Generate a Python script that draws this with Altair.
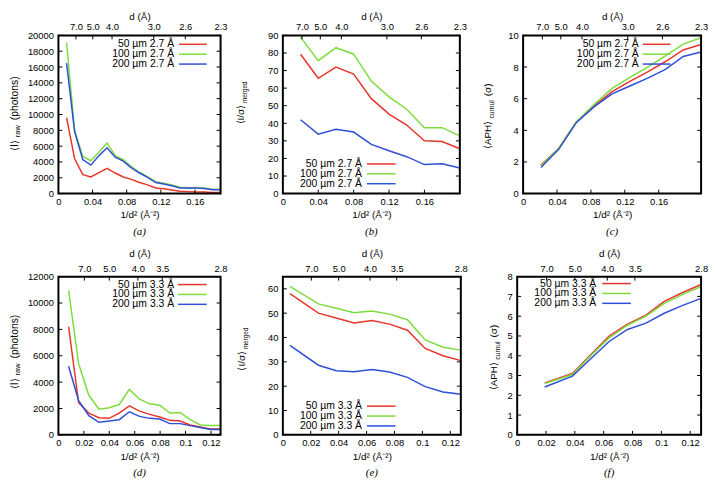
import altair as alt
import pandas as pd

COLORS = ["#e8352b", "#7ddc3c", "#2f4fd8"]
FONT = "Liberation Sans"

# ---------------- data ----------------
top_labels = ["50 µm 2.7 Å", "100 µm 2.7 Å", "200 µm 2.7 Å"]
bot_labels = ["50 µm 3.3 Å", "100 µm 3.3 Å", "200 µm 3.3 Å"]

top_d = [7.0, 5.0, 4.0, 3.0, 2.6, 2.3]
bot_d = [7.0, 5.0, 4.0, 3.5, 2.8]
xt_top = [0, 0.04, 0.08, 0.12, 0.16]
xt_bot = [0, 0.02, 0.04, 0.06, 0.08, 0.1, 0.12]

# (a) <I>raw
a_x = [0.0095, 0.0189, 0.0284, 0.0378, 0.0473, 0.0567, 0.0662, 0.0756, 0.0851, 0.0945,
       0.1040, 0.1134, 0.1229, 0.1323, 0.1418, 0.1512, 0.1607, 0.1701, 0.1796, 0.1890]
a_50 = [9600, 4400, 2400, 2100, 2650, 3200, 2600, 2100, 1800, 1400,
        1100, 700, 600, 450, 300, 250, 200, 200, 150, 150]
a_100 = [19100, 8000, 4700, 4150, 5250, 6400, 4800, 4300, 3400, 2700,
         2100, 1500, 1300, 1100, 800, 750, 700, 700, 550, 550]
a_200 = [16500, 7800, 4300, 3600, 4800, 5800, 4600, 4100, 3250, 2600,
         2050, 1400, 1200, 1000, 700, 700, 700, 650, 500, 500]

# (b) <I/sigma>merged and (c) <APH>cumul
bc_x = [0.0189, 0.0378, 0.0567, 0.0756, 0.0945, 0.1134, 0.1323, 0.1512, 0.1701, 0.1890]
b_50 = [79.3, 65.6, 72.0, 68.0, 54.0, 45.2, 39.0, 30.0, 29.6, 25.5]
b_100 = [89.0, 75.6, 83.0, 79.3, 64.0, 55.0, 48.0, 37.5, 37.5, 32.8]
b_200 = [42.0, 33.8, 36.6, 35.0, 28.0, 24.4, 21.0, 16.5, 17.0, 14.6]
c_50 = [1.80, 2.85, 4.55, 5.55, 6.45, 7.10, 7.70, 8.35, 9.08, 9.42]
c_100 = [1.75, 2.85, 4.55, 5.65, 6.65, 7.35, 8.00, 8.70, 9.45, 9.85]
c_200 = [1.65, 2.80, 4.50, 5.50, 6.30, 6.80, 7.30, 7.85, 8.67, 8.95]

# (d) <I>raw
d_x = [0.0080, 0.0159, 0.0239, 0.0319, 0.0399, 0.0478, 0.0558, 0.0638,
       0.0718, 0.0797, 0.0877, 0.0957, 0.1036, 0.1116, 0.1196, 0.1276]
d_50 = [8200, 2450, 1650, 1300, 1250, 1650, 2200, 1800,
        1550, 1350, 1100, 1050, 750, 600, 450, 450]
d_100 = [10950, 5400, 3000, 1950, 2050, 2300, 3450, 2700,
         2350, 2250, 1650, 1700, 1150, 750, 700, 700]
d_200 = [5200, 2600, 1450, 950, 1050, 1150, 1750, 1400,
         1250, 1200, 850, 850, 700, 550, 400, 400]

# (e) <I/sigma>merged
e_x = [0.0051, 0.0255, 0.0383, 0.0510, 0.0638, 0.0765, 0.0893, 0.1020, 0.1148, 0.1276]
e_50 = [58.0, 50.0, 48.0, 46.0, 47.0, 45.5, 43.0, 35.5, 32.5, 30.5]
e_100 = [61.0, 53.8, 52.0, 50.2, 50.9, 49.6, 47.3, 39.0, 36.0, 34.8]
e_200 = [36.8, 28.6, 26.3, 25.9, 26.8, 25.8, 23.6, 19.8, 17.6, 16.7]

# (f) <APH>cumul
f_x = [0.0191, 0.0383, 0.0510, 0.0638, 0.0765, 0.0893, 0.1020, 0.1148, 0.1276]
f_50 = [2.63, 3.10, 4.05, 5.00, 5.60, 6.05, 6.75, 7.20, 7.60]
f_100 = [2.60, 3.05, 4.00, 4.90, 5.55, 6.00, 6.65, 7.10, 7.50]
f_200 = [2.42, 2.97, 3.85, 4.72, 5.33, 5.65, 6.15, 6.55, 6.90]

# ---------------- layout helpers ----------------
WV, HV = 708, 475     # single view, placed at page (8, 8)
OFF = 8

CW = {'0': .556, '1': .556, '2': .556, '3': .556, '4': .556, '5': .556, '6': .556,
      '7': .556, '8': .556, '9': .556, '.': .278, ' ': .278, '(': .333, ')': .333,
      '/': .278, 'I': .278, 'A': .667, 'P': .667, 'H': .722, 'σ': .57, '⟨': .39,
      '⟩': .39, 'a': .556, 'c': .5, 'd': .556, 'e': .556, 'g': .556, 'h': .556,
      'l': .222, 'm': .833, 'n': .556, 'o': .556, 'p': .556, 'r': .333, 's': .5,
      't': .278, 'u': .556, 'w': .722}


def tw(txt, fs):
    return sum(CW.get(ch, .556) for ch in txt) * fs


def one(txt):
    return pd.DataFrame({"t": [txt]})


def panel(box, xs, ys, labels, xbot, xticks, dvals, dmax, ymax, yticks,
          segs, tpos, leg, letter, ttp):
    L, R, T, B = [v - OFF for v in box]
    rows = []
    for lab, yv in zip(labels, ys):
        for xi, yi in zip(xs, yv):
            rows.append({"x": xi, "y": yi, "s": lab})
    df = pd.DataFrame(rows)

    def xsc():
        return alt.Scale(domain=[0, dmax], range=[L, R], nice=False, zero=False)

    def ysc():
        return alt.Scale(domain=[0, ymax], range=[B, T], nice=False, zero=False)

    k = xbot / dmax
    out = []
    # data lines
    out.append(alt.Chart(df).mark_line(strokeWidth=1.5).encode(
        x=alt.X("x:Q", scale=xsc(), axis=None),
        y=alt.Y("y:Q", scale=ysc(), axis=None),
        color=alt.Color("s:N", scale=alt.Scale(domain=labels, range=COLORS), legend=None)))

    # bottom axis (1/d^2) + inward ticks
    bv = [v / k for v in xticks]
    out.append(alt.Chart(pd.DataFrame({"v": bv})).mark_rule(color="black", strokeWidth=1).encode(
        x=alt.X("v:Q", scale=xsc(),
                axis=alt.Axis(orient="bottom", offset=B - HV, values=bv,
                              labelExpr="format(datum.value * %r, '.2~f')" % k,
                              title="1/d² (Å⁻²)", ticks=False, domain=False, grid=False,
                              labelPadding=3, titlePadding=4, labelFlush=False,
                              labelOverlap=False)),
        y=alt.value(B), y2=alt.value(B - 4)))

    # top axis (d) + inward ticks
    dv = [1.0 / (d * d) for d in dvals]
    out.append(alt.Chart(pd.DataFrame({"v": dv})).mark_rule(color="black", strokeWidth=1).encode(
        x=alt.X("v:Q", scale=xsc(),
                axis=alt.Axis(orient="top", offset=-T, values=dv,
                              labelExpr="format(1/sqrt(datum.value), '.1f')",
                              title="d (Å)", ticks=False, domain=False, grid=False,
                              labelPadding=3.5, titlePadding=ttp, labelFlush=False,
                              labelOverlap=False)),
        y=alt.value(T), y2=alt.value(T + 4)))

    # left axis + inward ticks, right inward ticks
    ydf = pd.DataFrame({"v": yticks})
    out.append(alt.Chart(ydf).mark_rule(color="black", strokeWidth=1).encode(
        y=alt.Y("v:Q", scale=ysc(),
                axis=alt.Axis(orient="left", offset=-L, values=yticks, title=None,
                              ticks=False, domain=False, grid=False, labelPadding=5,
                              format="d", labelFlush=False, labelOverlap=False)),
        x=alt.value(L), x2=alt.value(L + 4)))
    out.append(alt.Chart(ydf).mark_rule(color="black", strokeWidth=1).encode(
        y=alt.Y("v:Q", scale=ysc(), axis=None), x=alt.value(R), x2=alt.value(R - 4)))

    # frame
    out.append(alt.Chart(one("f")).mark_rect(filled=False, color="black", stroke="black",
                                             strokeWidth=2, opacity=1,
                                             strokeOpacity=1).encode(
        x=alt.value(L), x2=alt.value(R), y=alt.value(T), y2=alt.value(B)))

    # y title with subscript
    tx, ty0 = tpos[0] - OFF, tpos[1] - OFF
    cur = ty0
    for txt, fs, sh, gap in segs:
        cur -= gap
        out.append(alt.Chart(one(txt)).mark_text(
            angle=270, align="left", baseline="alphabetic", font=FONT, fontSize=fs,
            color="black").encode(text="t:N", x=alt.value(tx + sh), y=alt.value(cur)))
        cur -= tw(txt, fs)

    # legend (text then line sample)
    txr, lx1, lx2, ly = leg
    for i, lab in enumerate(labels):
        out.append(alt.Chart(one(lab)).mark_text(
            align="right", baseline="middle", font=FONT, fontSize=10.5, color="black").encode(
            text="t:N", x=alt.value(L + txr), y=alt.value(T + ly[i])))
        out.append(alt.Chart(one(lab)).mark_rule(color=COLORS[i], strokeWidth=1.5).encode(
            x=alt.value(L + lx1), x2=alt.value(L + lx2), y=alt.value(T + ly[i])))

    # panel letter
    out.append(alt.Chart(one(letter)).mark_text(
        font="Liberation Serif", fontStyle="italic", fontSize=11, baseline="middle",
        color="black").encode(text="t:N", x=alt.value((L + R) / 2), y=alt.value(B + 39)))
    return out


seg_I = [("⟨I⟩", 10.5, 0, 0), ("raw", 7.5, 2.5, 3), ("(photons)", 10.5, 0, 5)]
seg_S = [("⟨I/σ⟩", 10, 0, 0), ("merged", 6.5, 2.5, 2.5)]
seg_A = [("⟨APH⟩", 10, 0, 0), ("cumul", 7, 2.5, 2.5), ("(σ)", 10, 0, 4)]

dtop = 1 / 2.3 ** 2
dbot = 1 / 2.8 ** 2

layers = []
layers += panel((59, 223, 33, 193), a_x, [a_50, a_100, a_200], top_labels, 0.19, xt_top,
                top_d, dtop, 20000, list(range(0, 20001, 2000)),
                seg_I, (18, 150), (117, 122, 150, [9, 19, 29]), "(a)", 1)
layers += panel((286, 465, 33, 193), bc_x, [b_50, b_100, b_200], top_labels, 0.2, xt_top,
                top_d, dtop, 90, list(range(0, 91, 10)),
                seg_S, (247, 123), (80, 85, 114, [130, 140, 150]), "(b)", 1)
layers += panel((529, 709, 33, 193), bc_x, [c_50, c_100, c_200], top_labels, 0.21, xt_top,
                top_d, dtop, 10, [0, 2, 4, 6, 8, 10],
                seg_A, (497, 148), (117, 121, 149, [9, 19, 29]), "(c)", 1)
layers += panel((59, 223, 277, 437), d_x, [d_50, d_100, d_200], bot_labels, dbot, xt_bot,
                bot_d, dbot, 12000, list(range(0, 12001, 2000)),
                seg_I, (18, 391), (117, 121, 150, [8, 18, 28]), "(d)", 5)
layers += panel((286, 466, 277, 437), e_x, [e_50, e_100, e_200], bot_labels, dbot, xt_bot,
                bot_d, dbot, 65, list(range(0, 61, 10)),
                seg_S, (248, 372), (80, 85, 114, [131, 141, 151]), "(e)", 5)
layers += panel((523, 709, 277, 437), f_x, [f_50, f_100, f_200], bot_labels, dbot, xt_bot,
                bot_d, dbot, 8, list(range(0, 9)),
                seg_A, (503, 392), (80, 86, 115, [7, 17, 27]), "(f)", 5)

chart = alt.layer(*layers).resolve_scale(
    x="independent", y="independent", color="independent"
).resolve_axis(x="independent", y="independent").properties(
    width=WV, height=HV, autosize=alt.AutoSizeParams(type="none"), padding=0,
    background="white"
).configure_view(stroke=None).configure_axis(
    labelFont=FONT, labelFontSize=9.5, labelColor="black",
    titleFont=FONT, titleFontSize=10, titleFontWeight="normal", titleColor="black"
)

chart.save("out.html", embed_options={"renderer": "svg", "actions": False})
